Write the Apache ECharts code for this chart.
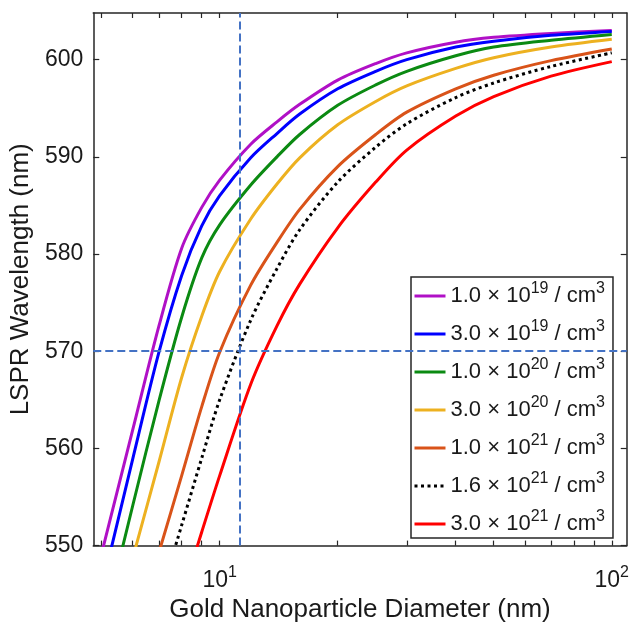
<!DOCTYPE html>
<html>
<head>
<meta charset="utf-8">
<script src="https://cdn.jsdelivr.net/npm/echarts@6/dist/echarts.min.js"></script>
<style>
  html, body { margin: 0; padding: 0; background: #fff; }
  #div_chart { width: 632px; height: 628px; }
</style>
</head>
<body>
<div id="div_chart"></div>
<script>
"use strict";

// data
const diameters = [5, 6, 7, 8, 9, 10, 12, 14, 16, 20, 25, 30, 40, 50, 70, 100];

const conc_mantissa = ["1.0", "3.0", "1.0", "3.0", "1.0", "1.6", "3.0"];
const conc_exponent = [19, 19, 20, 20, 21, 21, 21];

const lspr_1e19 = [549.2, 561.9, 572.6, 580.6, 584.8, 587.6, 591.3, 593.6, 595.4, 597.9, 599.6, 600.7, 601.8, 602.3, 602.7, 603.0];
const lspr_3e19 = [545.6, 558.9, 569.9, 577.8, 582.9, 586.0, 589.9, 592.4, 594.4, 597.0, 598.8, 600.0, 601.3, 601.9, 602.5, 602.9];
const lspr_1e20 = [541.0, 554.1, 564.9, 573.5, 579.6, 583.0, 587.1, 590.0, 592.3, 595.3, 597.4, 598.8, 600.4, 601.3, 602.0, 602.6];
const lspr_3e20 = [null, 548.7, 558.6, 567.3, 573.6, 578.2, 583.6, 587.2, 589.9, 593.3, 595.7, 597.3, 599.1, 600.2, 601.3, 602.1];
const lspr_1e21 = [null, null, 549.3, 557.2, 564.3, 569.9, 576.8, 581.2, 584.6, 589.0, 592.3, 594.6, 597.0, 598.4, 599.9, 601.1];
const lspr_16e21 = [null, null, 544.3, 552.1, 559.0, 565.0, 573.2, 578.5, 582.5, 587.4, 591.0, 593.4, 596.1, 597.6, 599.3, 600.7];
const lspr_3e21 = [null, null, null, 544.8, 551.4, 557.2, 566.6, 572.6, 576.9, 582.7, 587.4, 590.7, 594.2, 596.2, 598.3, 599.8];

const all_lspr = [lspr_1e19, lspr_3e19, lspr_1e20, lspr_3e20, lspr_1e21, lspr_16e21, lspr_3e21];
const line_colors = ["#B010C6", "#0000FF", "#0B8A12", "#EDB120", "#D95319", "#000000", "#FF0000"];

// axis ranges and ticks
const x_min = 4.76;
const x_max = 109.2;
const x_tick_values = [5, 6, 7, 8, 9, 10, 20, 30, 40, 50, 60, 70, 80, 90, 100];
const x_label_values = [10, 100];
const y_min = 550;
const y_max = 604.8;
const y_tick_values = [550, 560, 570, 580, 590, 600];

// reference lines
const ref_diameter = 11.1;
const ref_wavelength = 570;

const font = "'Liberation Sans', Arial, Helvetica, sans-serif";
const ax_color = "#262626";
const txt_color = "#1a1a1a";
const lg = v => Math.log10(v);

function legend_name(i) {
  return conc_mantissa[i] + " × 10^" + conc_exponent[i] + " / cm^3";
}

const html_div_chart = document.getElementById("div_chart");
const chart = echarts.init(html_div_chart, null, { renderer: "canvas" });

const series = [];
for (let i = 0; i < all_lspr.length; i++) {
  const data = [];
  for (let j = 0; j < diameters.length; j++) {
    data.push([lg(diameters[j]), all_lspr[i][j]]);
  }
  const s = {
    type: "line",
    name: legend_name(i),
    data: data,
    showSymbol: false,
    symbol: "none",
    smooth: 0.3,
    connectNulls: false,
    lineStyle: {
      color: line_colors[i],
      width: 3,
      type: i === 5 ? [3, 3.5] : "solid",
      cap: "butt",
    },
    itemStyle: { color: line_colors[i] },
    z: 3,
  };
  if (i === 0) {
    s.markLine = {
      silent: true,
      symbol: "none",
      label: { show: false },
      lineStyle: { color: "#4472C4", width: 2, type: [8, 4] },
      data: [
        { xAxis: lg(ref_diameter) },
        { yAxis: ref_wavelength },
      ],
    };
  }
  series.push(s);
}

const x_axis_common = {
  type: "value",
  min: lg(x_min),
  max: lg(x_max),
  splitLine: { show: false },
  axisLine: { show: true, onZero: false, lineStyle: { color: ax_color, width: 1.5 } },
  axisTick: {
    show: true,
    inside: true,
    length: 5,
    customValues: x_tick_values.map(lg),
    lineStyle: { color: ax_color, width: 1.2 },
  },
};

const y_axis_common = {
  type: "value",
  min: y_min,
  max: y_max,
  splitLine: { show: false },
  axisLine: { show: true, onZero: false, lineStyle: { color: ax_color, width: 1.5 } },
  axisTick: {
    show: true,
    inside: true,
    length: 6,
    customValues: y_tick_values,
    lineStyle: { color: ax_color, width: 1.2 },
  },
};

chart.setOption({
  animation: false,
  backgroundColor: "#fff",
  grid: { left: 93, right: 3, top: 13, bottom: 78, containLabel: false },
  xAxis: [
    Object.assign({}, x_axis_common, {
      position: "bottom",
      name: "Gold Nanoparticle Diameter (nm)",
      nameLocation: "middle",
      nameGap: 50,
      nameTextStyle: { fontSize: 26, fontFamily: font, color: txt_color },
      axisLabel: {
        show: true,
        margin: 19,
        customValues: x_label_values.map(lg),
        formatter: v => "{b|10}{s|" + Math.round(v) + "}",
        rich: {
          b: { fontSize: 23, fontFamily: font, color: txt_color, lineHeight: 32, verticalAlign: "middle" },
          s: { fontSize: 16, fontFamily: font, color: txt_color, lineHeight: 16, verticalAlign: "top" },
        },
      },
    }),
    Object.assign({}, x_axis_common, {
      position: "top",
      axisLabel: { show: false },
    }),
  ],
  yAxis: [
    Object.assign({}, y_axis_common, {
      position: "left",
      name: "LSPR Wavelength (nm)",
      nameLocation: "middle",
      nameGap: 48,
      nameTextStyle: { fontSize: 26, fontFamily: font, color: txt_color },
      axisLabel: {
        show: true,
        margin: 10,
        customValues: y_tick_values,
        fontSize: 23,
        fontFamily: font,
        color: txt_color,
      },
    }),
    Object.assign({}, y_axis_common, {
      position: "right",
      axisLabel: { show: false },
    }),
  ],
  legend: {
    show: true,
    orient: "vertical",
    left: 411,
    top: 277,
    padding: [4, 8, 3, 2],
    itemGap: 12,
    itemWidth: 31,
    itemHeight: 14,
    backgroundColor: "#fff",
    borderColor: ax_color,
    borderWidth: 1.5,
    borderRadius: 0,
    itemStyle: { opacity: 0 },
    lineStyle: { width: 3 },
    formatter: name => {
      const parts = name.split(/\^(\d+)/);
      let out = "";
      for (let k = 0; k < parts.length; k++) {
        if (parts[k] === "") continue;
        out += (k % 2 === 1 ? "{s|" : "{t|") + parts[k] + "}";
      }
      return out;
    },
    textStyle: {
      fontSize: 22,
      fontFamily: font,
      color: txt_color,
      rich: {
        t: { fontSize: 22, fontFamily: font, color: txt_color, lineHeight: 30, verticalAlign: "middle" },
        s: { fontSize: 16, fontFamily: font, color: txt_color, lineHeight: 15, verticalAlign: "top" },
      },
    },
    data: series.map(s => s.name),
  },
  series: series,
});
</script>
</body>
</html>
